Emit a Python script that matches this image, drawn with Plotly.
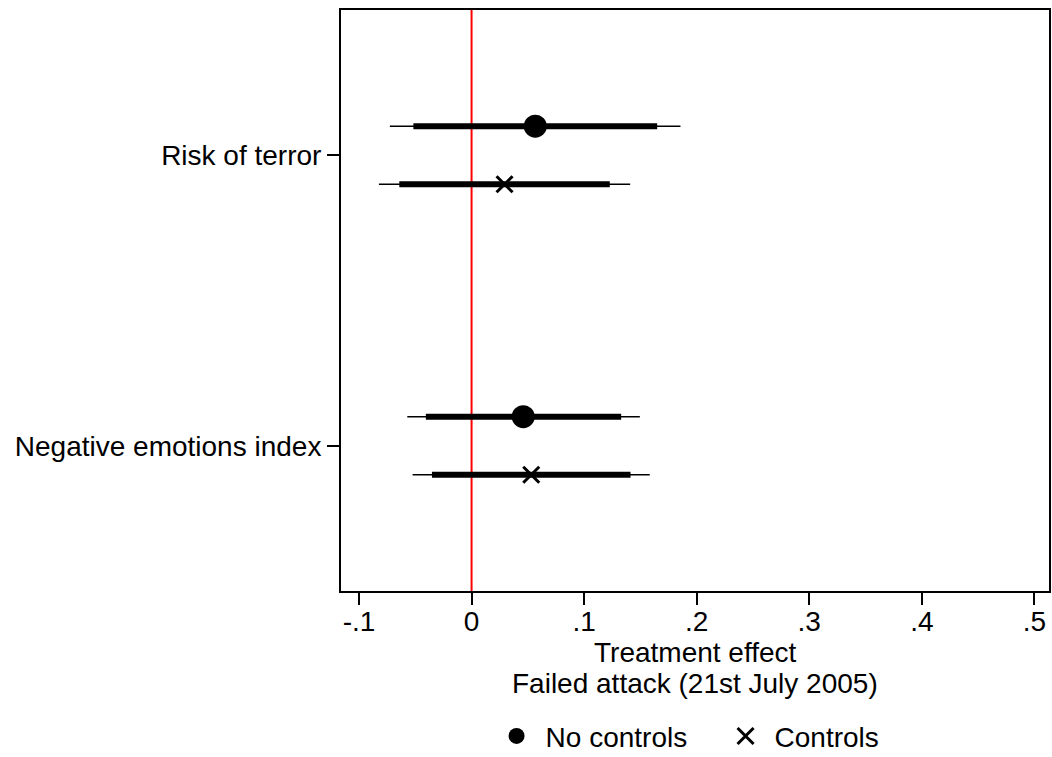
import plotly.graph_objects as go

# ---- data ----
categories = ["Risk of terror", "Negative emotions index"]
cat_pos = [1, 2]

nc_coef = [0.0566, 0.0459]
nc_lo95 = [-0.0726, -0.0571]
nc_hi95 = [0.1856, 0.1495]
nc_lo90 = [-0.0517, -0.0406]
nc_hi90 = [0.1649, 0.1329]

c_coef = [0.0293, 0.0530]
c_lo95 = [-0.0823, -0.0524]
c_hi95 = [0.1409, 0.1583]
c_lo90 = [-0.0642, -0.0352]
c_hi90 = [0.1228, 0.1412]

x_ticks = [-0.1, 0, 0.1, 0.2, 0.3, 0.4, 0.5]
x_ticktext = ["-.1", "0", ".1", ".2", ".3", ".4", ".5"]

series = [
    ("No controls", nc_coef, nc_lo95, nc_hi95, nc_lo90, nc_hi90, -0.1, "circle", 23),
    ("Controls", c_coef, c_lo95, c_hi95, c_lo90, c_hi90, 0.1, "x-thin", 16),
]

FONT = "Liberation Sans, Arial, Helvetica, sans-serif"
fig = go.Figure()

for name, coef, lo95, hi95, lo90, hi90, off, sym, size in series:
    for i, p in enumerate(cat_pos):
        y = p + off
        fig.add_trace(go.Scatter(x=[lo95[i], hi95[i]], y=[y, y], mode="lines",
                                 line=dict(color="black", width=1.5),
                                 showlegend=False, hoverinfo="skip"))
        fig.add_trace(go.Scatter(x=[lo90[i], hi90[i]], y=[y, y], mode="lines",
                                 line=dict(color="black", width=6),
                                 showlegend=False, hoverinfo="skip"))
    fig.add_trace(go.Scatter(
        x=coef, y=[p + off for p in cat_pos], mode="markers", name=name,
        marker=dict(symbol=sym, size=size, color="black",
                    line=dict(color="black", width=3 if sym == "x-thin" else 0)),
    ))

fig.add_shape(type="line", x0=0, x1=0, xref="x", y0=0, y1=1, yref="y domain",
              line=dict(color="#ff0000", width=2), layer="below")

fig.update_layout(
    width=1052, height=757,
    margin=dict(l=341, r=3, t=10, b=166, autoexpand=False),
    paper_bgcolor="white", plot_bgcolor="white",
    font=dict(family=FONT, size=28, color="black"),
    showlegend=True,
    legend=dict(orientation="h", x=0.207, xanchor="left", y=-0.25, yanchor="middle",
                font=dict(size=28), itemsizing="trace", itemwidth=48,
                entrywidth=166, entrywidthmode="pixels",
                bgcolor="rgba(0,0,0,0)"),
    annotations=[
        dict(text="Treatment effect", x=0.5, xref="paper", y=-0.1067, yref="paper",
             yanchor="middle", xanchor="center", showarrow=False, font=dict(size=28)),
        dict(text="Failed attack (21st July 2005)", x=0.5, xref="paper", y=-0.160,
             yref="paper", yanchor="middle", xanchor="center", showarrow=False,
             font=dict(size=28)),
    ],
)

fig.update_xaxes(range=[-0.116, 0.513], tickvals=x_ticks, ticktext=x_ticktext,
                 ticks="outside", ticklen=12, tickwidth=1.5, tickcolor="black",
                 showline=True, linewidth=2, linecolor="black", mirror=True,
                 showgrid=False, zeroline=False, tickfont=dict(size=28),
                 ticklabelstandoff=-8)
fig.update_yaxes(range=[2.5, 0.5], tickvals=cat_pos, ticktext=categories,
                 ticks="outside", ticklen=12, tickwidth=1.5, tickcolor="black",
                 showline=True, linewidth=2, linecolor="black", mirror=True,
                 showgrid=False, zeroline=False, tickfont=dict(size=28),
                 ticklabelstandoff=0)

fig.write_html("out.html")
